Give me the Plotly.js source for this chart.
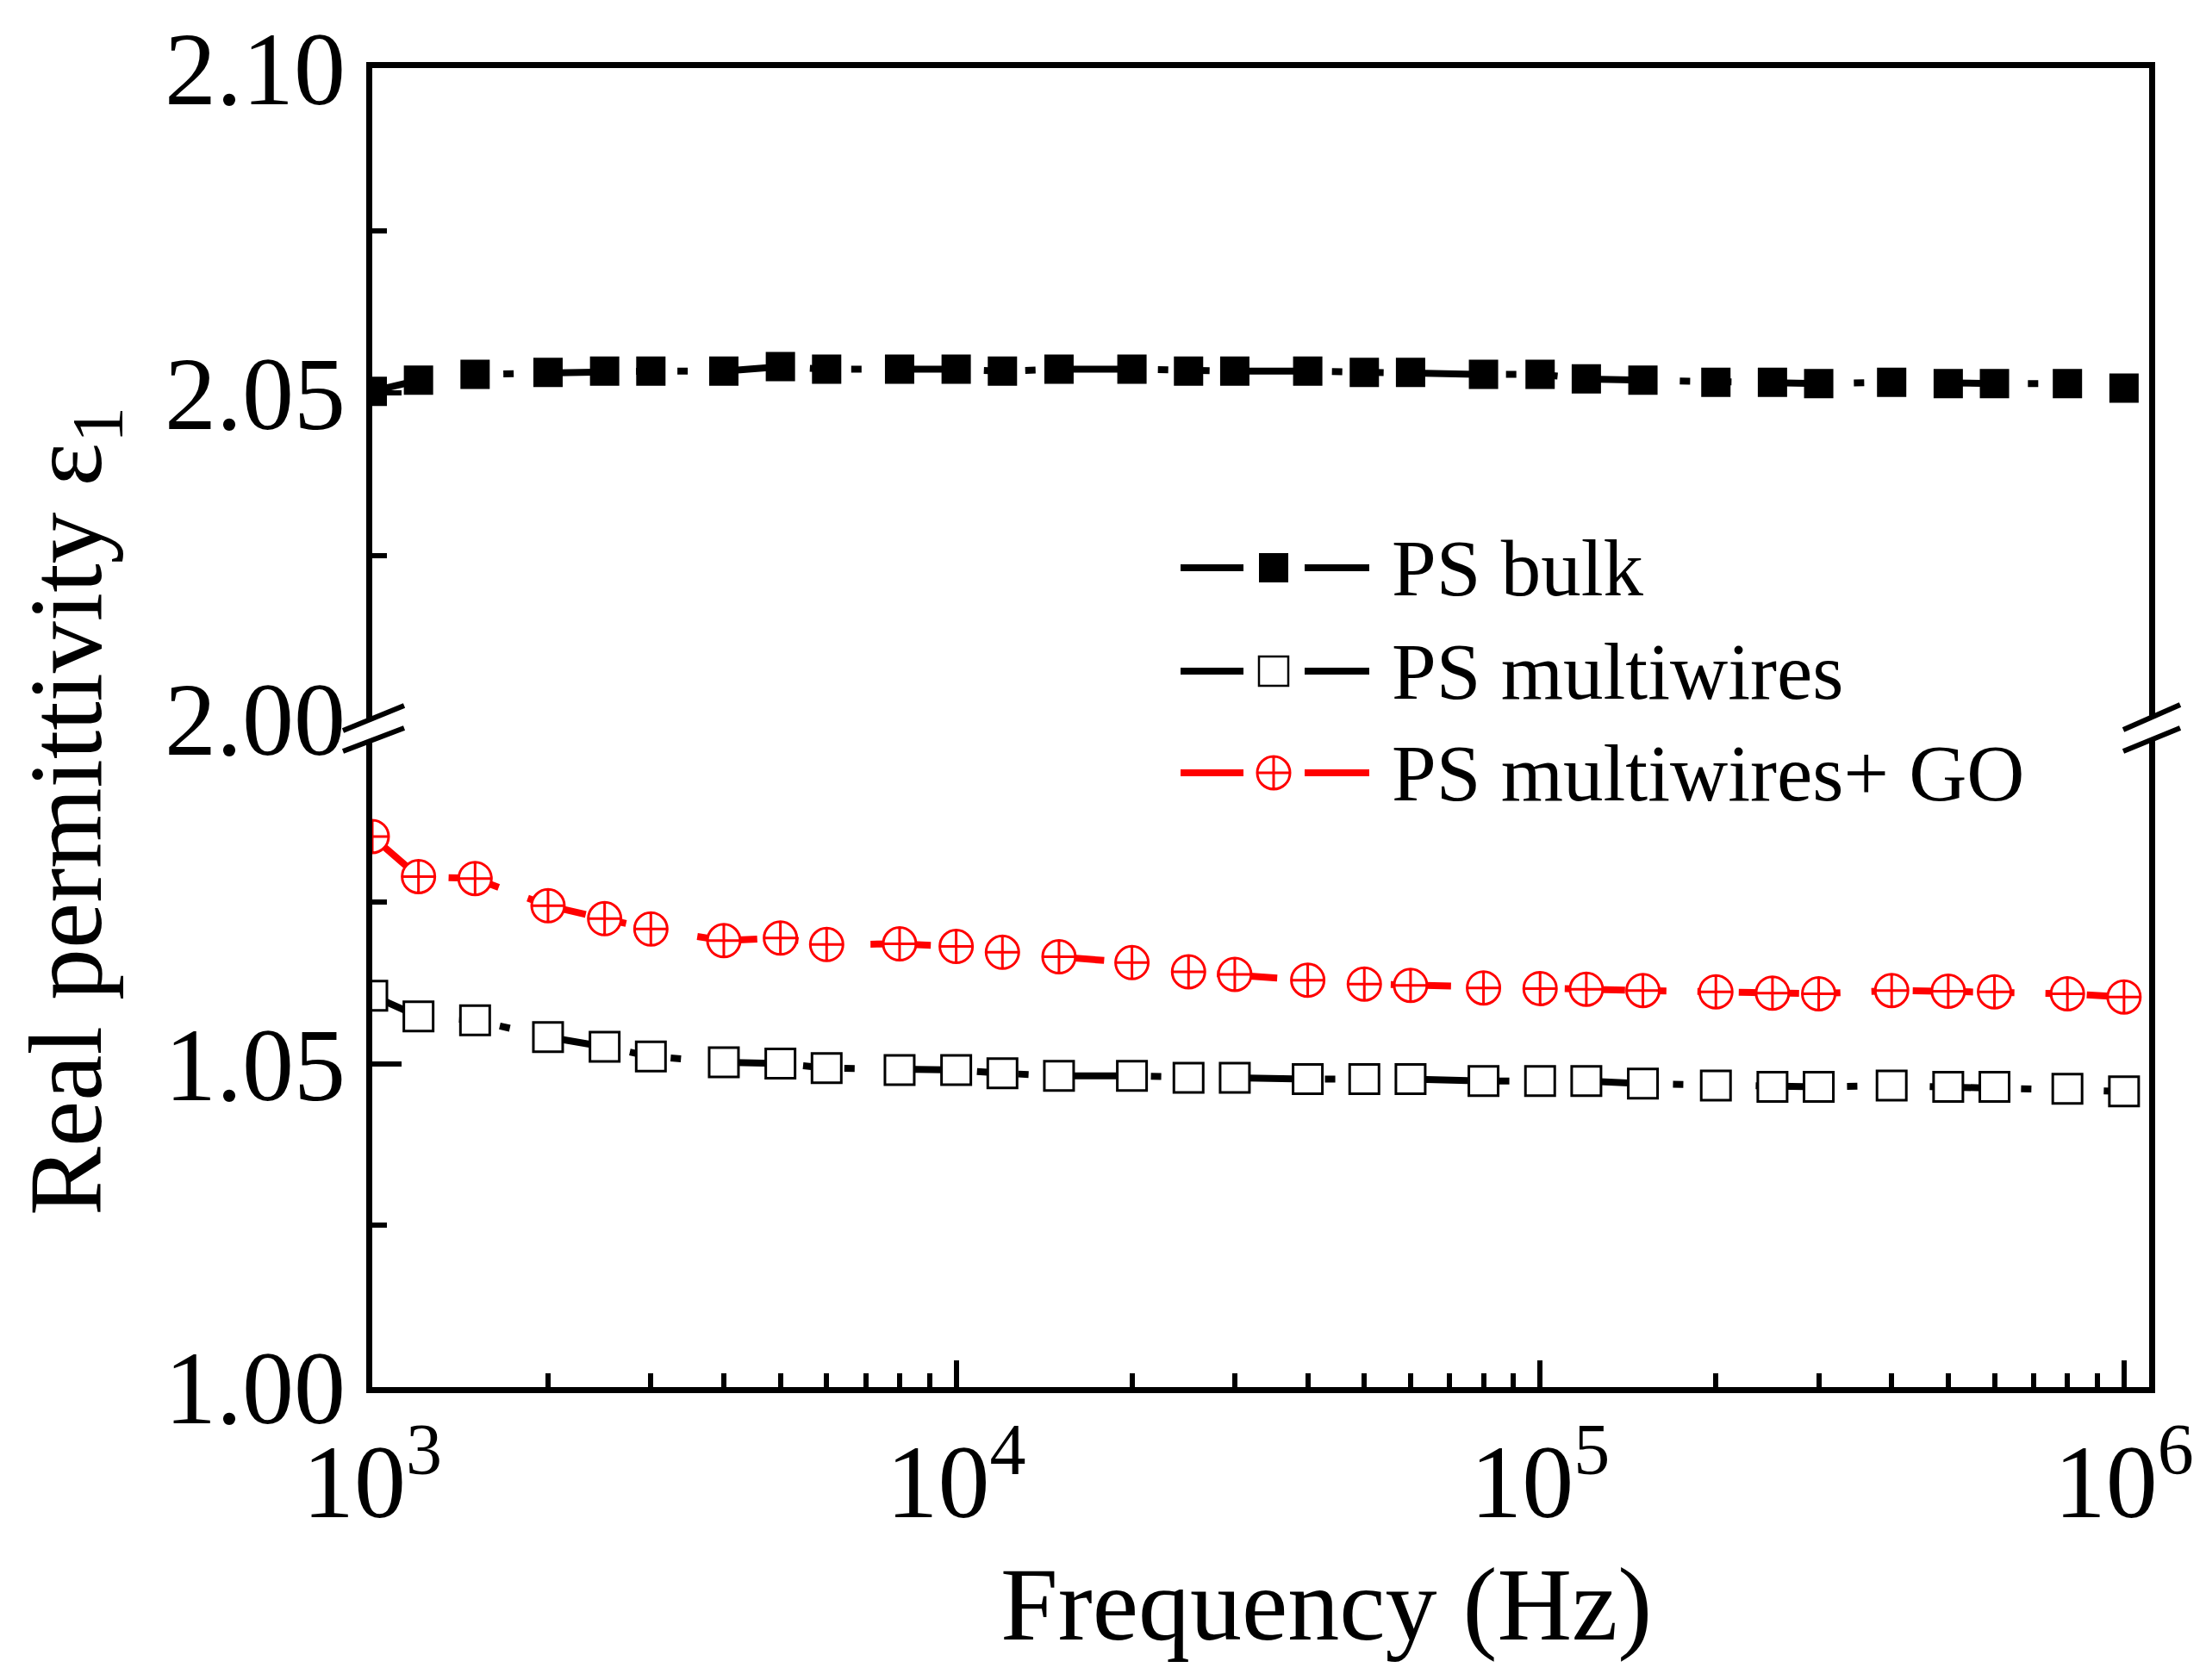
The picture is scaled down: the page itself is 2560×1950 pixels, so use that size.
<!DOCTYPE html>
<html>
<head>
<meta charset="utf-8">
<script src="https://cdn.plot.ly/plotly-3.0.1.min.js"></script>
<style>html,body{margin:0;padding:0;background:#fff;}</style>
</head>
<body>
<div id="chart" style="width:2560px;height:1950px;"></div>
<script>
// ---- data ----
const frequency = [1000,1200,1500,2000,2500,3000,4000,5000,6000,8000,
  10000,12000,15000,20000,25000,30000,40000,50000,60000,80000,
  100000,120000,150000,200000,250000,300000,400000,500000,600000,800000,1000000];
const psBulk = [2.0503,2.0520,2.0529,2.0532,2.0534,2.0534,2.0534,2.0541,2.0537,2.0537,
  2.0537,2.0534,2.0537,2.0537,2.0534,2.0534,2.0534,2.0532,2.0532,2.0529,
  2.0529,2.0522,2.0520,2.0517,2.0517,2.0515,2.0517,2.0515,2.0515,2.0515,2.0508];
const psMultiwires = [1.0605,1.0573,1.0567,1.0541,1.0526,1.0511,1.0502,1.0500,1.0493,1.0490,
  1.0490,1.0485,1.0481,1.0481,1.0478,1.0478,1.0476,1.0476,1.0476,1.0473,
  1.0473,1.0473,1.0469,1.0466,1.0464,1.0464,1.0466,1.0464,1.0464,1.0461,1.0457];
const psMultiwiresGO = [1.0851,1.0789,1.0786,1.0744,1.0724,1.0708,1.0690,1.0694,1.0684,1.0685,
  1.0681,1.0672,1.0665,1.0656,1.0642,1.0638,1.0629,1.0623,1.0621,1.0617,
  1.0616,1.0615,1.0613,1.0611,1.0609,1.0608,1.0613,1.0612,1.0611,1.0608,1.0603];
const seriesNames = ['PS bulk','PS multiwires','PS multiwires+ GO'];
const xTickVals = [1e3,1e4,1e5,1e6];
const xTickText = ['10<sup>3</sup>','10<sup>4</sup>','10<sup>5</sup>','10<sup>6</sup>'];
const yLowTickVals = [1.00,1.05];
const yLowTickText = ['1.00','1.05'];
const yLowMinor = [1.025,1.075];
const yHighTickVals = [2.00,2.05,2.10];
const yHighTickText = ['2.00','2.05','2.10'];
const yHighMinor = [2.025,2.075];

// ---- geometry / styles ----
const L = 432, R = 2494, T = 79, B = 1610;
const W = R - L, H = B - T;
const px = v => (v - L) / W;
const py = v => (B - v) / H;
const FONT = 'Liberation Serif, "Times New Roman", Times, serif';
const DASH = '70px,36px,12px,36px,12px,36px';
const LW = 8;

const xMinor = [];
for (let e = 3; e < 6; e++) for (let d = 2; d <= 9; d++) xMinor.push(d * Math.pow(10, e));

const styles = [
  {color:'black', fill:'black', symbol:'square', size:34, lw:0},
  {color:'black', fill:'white', symbol:'square', size:34, lw:3},
  {color:'red', fill:'white', symbol:'circle-cross', size:38, lw:3}
];

function dataTrace(y, i, xa, ya) {
  const s = styles[i];
  return {
    x: frequency, y: y, xaxis: xa, yaxis: ya, name: seriesNames[i],
    type: 'scatter', mode: 'lines+markers',
    line: {color: s.color, width: LW, dash: DASH},
    marker: {symbol: s.symbol, size: s.size, color: s.fill, line: {color: s.color, width: s.lw}},
    cliponaxis: true
  };
}

const traces = [
  dataTrace(psBulk, 0, 'x2', 'y2'),
  dataTrace(psMultiwires, 1, 'x', 'y'),
  dataTrace(psMultiwiresGO, 2, 'x', 'y')
];

// legend (pixel-mapped overlay axes)
const legendRowsY = [659, 779, 897];
const legendLineX = [1370, 1443, null, 1514, 1589];
const legendMarkerX = 1478;
const legendTextX = 1613;
const annotations = [];
legendRowsY.forEach((ry, i) => {
  const s = styles[i];
  traces.push({
    x: legendLineX, y: legendLineX.map(v => v === null ? null : ry),
    xaxis: 'x3', yaxis: 'y3', type: 'scatter', mode: 'lines',
    line: {color: s.color, width: 8}, hoverinfo: 'skip', connectgaps: false
  });
  traces.push({
    x: [legendMarkerX], y: [ry], xaxis: 'x3', yaxis: 'y3', type: 'scatter', mode: 'markers',
    marker: {symbol: s.symbol, size: s.size, color: s.fill, line: {color: s.color, width: i === 1 ? 2.5 : s.lw}},
    hoverinfo: 'skip'
  });
  annotations.push({
    text: seriesNames[i], x: legendTextX, y: ry, xref: 'x3', yref: 'y3',
    xanchor: 'left', yanchor: 'middle', showarrow: false,
    font: {family: FONT, size: 93, color: 'black'}
  });
});

annotations.push({
  text: 'Real permittivity ε<sub>1</sub>', textangle: -90,
  x: px(85), y: py(942), xref: 'paper', yref: 'paper',
  xanchor: 'center', yanchor: 'middle', showarrow: false,
  font: {family: FONT, size: 120, color: 'black'}
});
annotations.push({
  text: 'Frequency (Hz)',
  x: px(1539), y: py(1862), xref: 'paper', yref: 'paper',
  xanchor: 'center', yanchor: 'middle', showarrow: false,
  font: {family: FONT, size: 120, color: 'black'}
});

// axis-break marks
const breakMarks = [
  [398,848,469,819],[398,872,469,845],
  [2464,847,2530,818],[2464,872,2530,845]
];
const shapes = breakMarks.map(b => ({
  type: 'line', xref: 'paper', yref: 'paper',
  x0: px(b[0]), y0: py(b[1]), x1: px(b[2]), y1: py(b[3]),
  line: {color: 'black', width: 6}
}));

const axCommon = {
  showline: true, linecolor: 'black', linewidth: 7, showgrid: false, zeroline: false,
  tickcolor: 'black', tickfont: {family: FONT, size: 120, color: 'black'}
};
const xRange = [3, 6.043];

const layout = {
  width: 2560, height: 1950,
  paper_bgcolor: 'white', plot_bgcolor: 'rgba(0,0,0,0)',
  margin: {l: L, r: 2560 - R, t: T, b: 1950 - B, pad: 0},
  showlegend: false,
  font: {family: FONT, size: 120, color: 'black'},
  xaxis: Object.assign({}, axCommon, {
    type: 'log', range: xRange, domain: [0, 1], anchor: 'y', mirror: false,
    ticks: 'inside', ticklen: 31, tickwidth: 6,
    tickmode: 'array', tickvals: xTickVals, ticktext: xTickText,
    minor: {tickmode: 'array', tickvals: xMinor, ticks: 'inside', ticklen: 16, tickwidth: 6, tickcolor: 'black', showgrid: false}
  }),
  xaxis2: Object.assign({}, axCommon, {
    type: 'log', range: xRange, domain: [0, 1], anchor: 'y2', side: 'top', mirror: false,
    ticks: '', showticklabels: false
  }),
  yaxis: Object.assign({}, axCommon, {
    range: [1.00, 1.10], domain: [0, 0.4905], anchor: 'x', mirror: true,
    ticks: 'inside', ticklen: 34, tickwidth: 6,
    tickmode: 'array', tickvals: yLowTickVals, ticktext: yLowTickText,
    minor: {tickmode: 'array', tickvals: yLowMinor, ticks: 'inside', ticklen: 17, tickwidth: 6, tickcolor: 'black', showgrid: false}
  }),
  yaxis2: Object.assign({}, axCommon, {
    range: [2.00, 2.10], domain: [0.5069, 1], anchor: 'x2', mirror: true,
    ticks: 'inside', ticklen: 34, tickwidth: 6,
    tickmode: 'array', tickvals: yHighTickVals, ticktext: yHighTickText,
    minor: {tickmode: 'array', tickvals: yHighMinor, ticks: 'inside', ticklen: 17, tickwidth: 6, tickcolor: 'black', showgrid: false}
  }),
  xaxis3: {domain: [0, 1], range: [L, R], anchor: 'y3', visible: false, fixedrange: true},
  yaxis3: {domain: [0, 1], range: [B, T], anchor: 'x3', visible: false, fixedrange: true},
  annotations: annotations,
  shapes: shapes
};

Plotly.newPlot('chart', traces, layout, {staticPlot: true, displayModeBar: false});
</script>
</body>
</html>
